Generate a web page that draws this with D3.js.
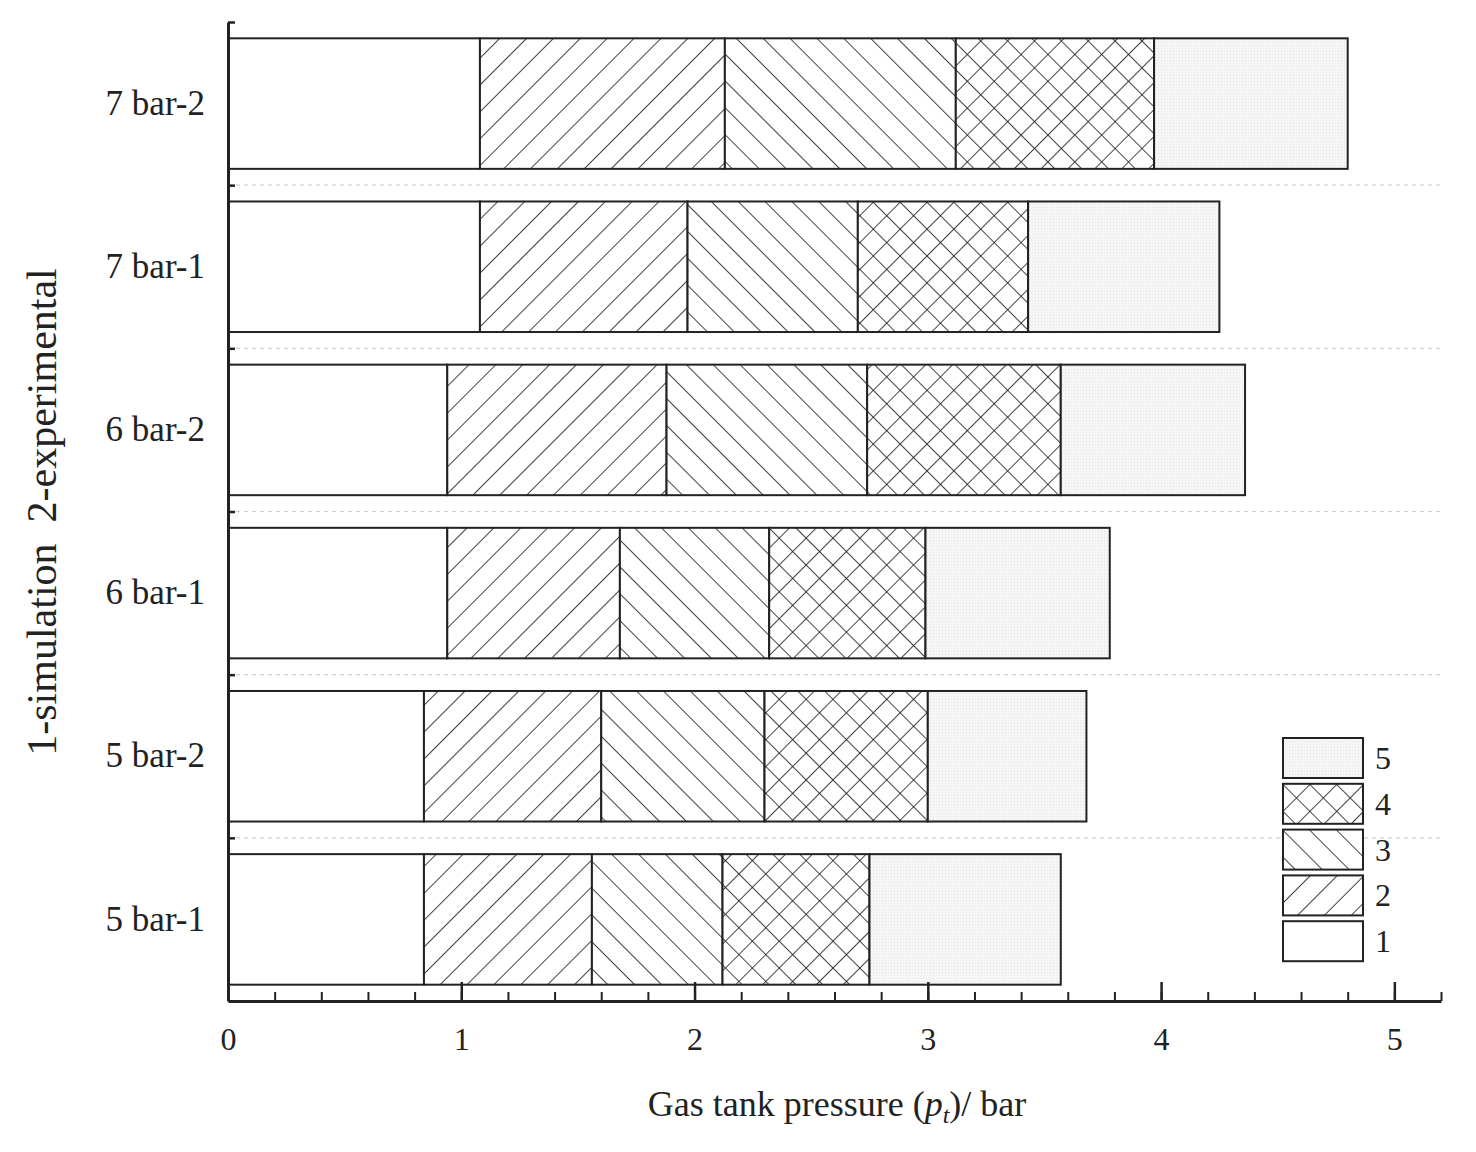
<!DOCTYPE html>
<html>
<head>
<meta charset="utf-8">
<script src="https://cdn.jsdelivr.net/npm/d3@7"></script>
<style>
  body { margin: 0; background: #fff; }
  text { font-family: "Liberation Serif", "Times New Roman", serif; fill: #222; }
</style>
</head>
<body>
<div id="chart"></div>
<script>
"use strict";
// stacked segments (bar), bottom category first
var categories = ["5 bar-1", "5 bar-2", "6 bar-1", "6 bar-2", "7 bar-1", "7 bar-2"];
var stage1 = [0.84, 0.84, 0.94, 0.94, 1.08, 1.08];
var stage2 = [0.72, 0.76, 0.74, 0.94, 0.89, 1.05];
var stage3 = [0.56, 0.70, 0.64, 0.86, 0.73, 0.99];
var stage4 = [0.63, 0.70, 0.67, 0.83, 0.73, 0.85];
var stage5 = [0.82, 0.68, 0.79, 0.79, 0.82, 0.83];
var seriesNames = ["1", "2", "3", "4", "5"];
var majorTicks = [0, 1, 2, 3, 4, 5];

var w = 1476, h = 1152;
var plotLeft = 228, plotRight = 1441, plotTop = 22, plotBottom = 1001;

var svg = d3.select("#chart").append("svg")
    .attr("width", w)
    .attr("height", h);

// fill patterns
var defs = svg.append("defs");
function hatch(id, angles) {
    var p = defs.append("pattern")
        .attr("id", id)
        .attr("patternUnits", "userSpaceOnUse")
        .attr("width", 19)
        .attr("height", 19)
        .attr("patternTransform", "rotate(45)");
    p.append("rect").attr("width", 19).attr("height", 19).attr("fill", "#fff");
    angles.forEach(function(a) {
        if (a == "v") p.append("line").attr("x1", 0).attr("y1", 0).attr("x2", 0).attr("y2", 19);
        else p.append("line").attr("x1", 0).attr("y1", 0).attr("x2", 19).attr("y2", 0);
    });
    p.selectAll("line").attr("stroke", "#222").attr("stroke-width", 1.7);
}
hatch("p2", ["v"]);
hatch("p3", ["h"]);
hatch("p4", ["v", "h"]);
var dots = defs.append("pattern")
    .attr("id", "p5")
    .attr("patternUnits", "userSpaceOnUse")
    .attr("width", 3)
    .attr("height", 3);
dots.append("rect").attr("width", 3).attr("height", 3).attr("fill", "#f6f6f6");
dots.append("rect").attr("width", 1).attr("height", 1).attr("fill", "#e2e2e2");

var fills = ["#fff", "url(#p2)", "url(#p3)", "url(#p4)", "url(#p5)"];

var table = categories.map(function(c, i) {
    return { cat: c, "1": stage1[i], "2": stage2[i], "3": stage3[i], "4": stage4[i], "5": stage5[i] };
});
var stacked = d3.stack().keys(seriesNames)(table);

var x = d3.scaleLinear().domain([0, 5.2]).range([plotLeft, plotRight]);
var y = d3.scaleBand().domain(categories).range([plotBottom, plotTop])
    .paddingInner(0.2).paddingOuter(0.1);
var yEdge = d3.scaleLinear().domain([0, categories.length]).range([plotBottom, plotTop]);

// dashed separators
svg.append("g").selectAll("line")
    .data(d3.range(1, categories.length))
    .enter().append("line")
    .attr("x1", plotLeft).attr("x2", plotRight)
    .attr("y1", function(d) { return yEdge(d); })
    .attr("y2", function(d) { return yEdge(d); })
    .attr("stroke", "#d0d0d0")
    .attr("stroke-width", 1.2)
    .attr("stroke-dasharray", "4,4");

// bars
var groups = svg.append("g").selectAll("g")
    .data(stacked)
    .enter().append("g")
    .attr("fill", function(d, i) { return fills[i]; });

groups.selectAll("rect")
    .data(function(d) { return d; })
    .enter().append("rect")
    .attr("x", function(d) { return x(d[0]); })
    .attr("width", function(d) { return x(d[1]) - x(d[0]); })
    .attr("y", function(d) { return y(d.data.cat); })
    .attr("height", y.bandwidth())
    .attr("stroke", "#222")
    .attr("stroke-width", 2);

// x axis, minor then major ticks pointing inward
svg.append("g")
    .attr("transform", "translate(0," + plotBottom + ")")
    .call(d3.axisBottom(x)
        .tickValues(d3.range(0, 27).map(function(i) { return i / 5; }))
        .tickSize(-9).tickSizeOuter(0).tickFormat(""))
    .call(function(g) {
        g.select(".domain").attr("stroke-width", 3).attr("stroke", "#222");
        g.selectAll(".tick line").attr("stroke-width", 2).attr("stroke", "#222");
    });

svg.append("g")
    .attr("transform", "translate(0," + plotBottom + ")")
    .call(d3.axisBottom(x).tickValues(majorTicks)
        .tickSize(-19).tickSizeOuter(0).tickPadding(26)
        .tickFormat(d3.format("d")))
    .call(function(g) {
        g.select(".domain").remove();
        g.selectAll(".tick line").attr("stroke-width", 2.5).attr("stroke", "#222");
        g.selectAll("text").style("font-size", "32px").attr("fill", "#222");
    });

// y axis
svg.append("g")
    .attr("transform", "translate(" + plotLeft + ",0)")
    .call(d3.axisLeft(yEdge).tickValues(d3.range(1, categories.length + 1))
        .tickSize(-7).tickSizeOuter(0).tickFormat(""))
    .call(function(g) {
        g.select(".domain").attr("stroke-width", 3).attr("stroke", "#222");
        g.selectAll(".tick line").attr("stroke-width", 2.5).attr("stroke", "#222");
    });

svg.append("g")
    .attr("transform", "translate(" + plotLeft + ",0)")
    .call(d3.axisLeft(y).tickSize(0).tickPadding(23))
    .call(function(g) {
        g.select(".domain").remove();
        g.selectAll("text").style("font-size", "35px").attr("fill", "#222");
    });

// axis titles
var xt = svg.append("text")
    .attr("x", 837)
    .attr("y", 1116)
    .attr("text-anchor", "middle")
    .style("font-size", "36px");
xt.append("tspan").text("Gas tank pressure (");
xt.append("tspan").style("font-style", "italic").text("p");
xt.append("tspan").style("font-style", "italic").style("font-size", "24px").attr("dy", 7).text("t");
xt.append("tspan").attr("dy", -7).text(")/ bar");

svg.append("text")
    .attr("transform", "translate(56,512) rotate(-90)")
    .attr("text-anchor", "middle")
    .style("font-size", "42px")
    .style("white-space", "pre")
    .text("1-simulation  2-experimental");

// legend, "5" on top
var legend = svg.append("g").selectAll("g")
    .data(seriesNames.slice().reverse())
    .enter().append("g")
    .attr("transform", function(d, i) { return "translate(1283," + (738 + i * 45.8) + ")"; });

legend.append("rect")
    .attr("width", 80)
    .attr("height", 40)
    .attr("fill", function(d) { return fills[+d - 1]; })
    .attr("stroke", "#222")
    .attr("stroke-width", 2);

legend.append("text")
    .attr("x", 92)
    .attr("y", 31)
    .style("font-size", "32px")
    .text(function(d) { return d; });
</script>
</body>
</html>
